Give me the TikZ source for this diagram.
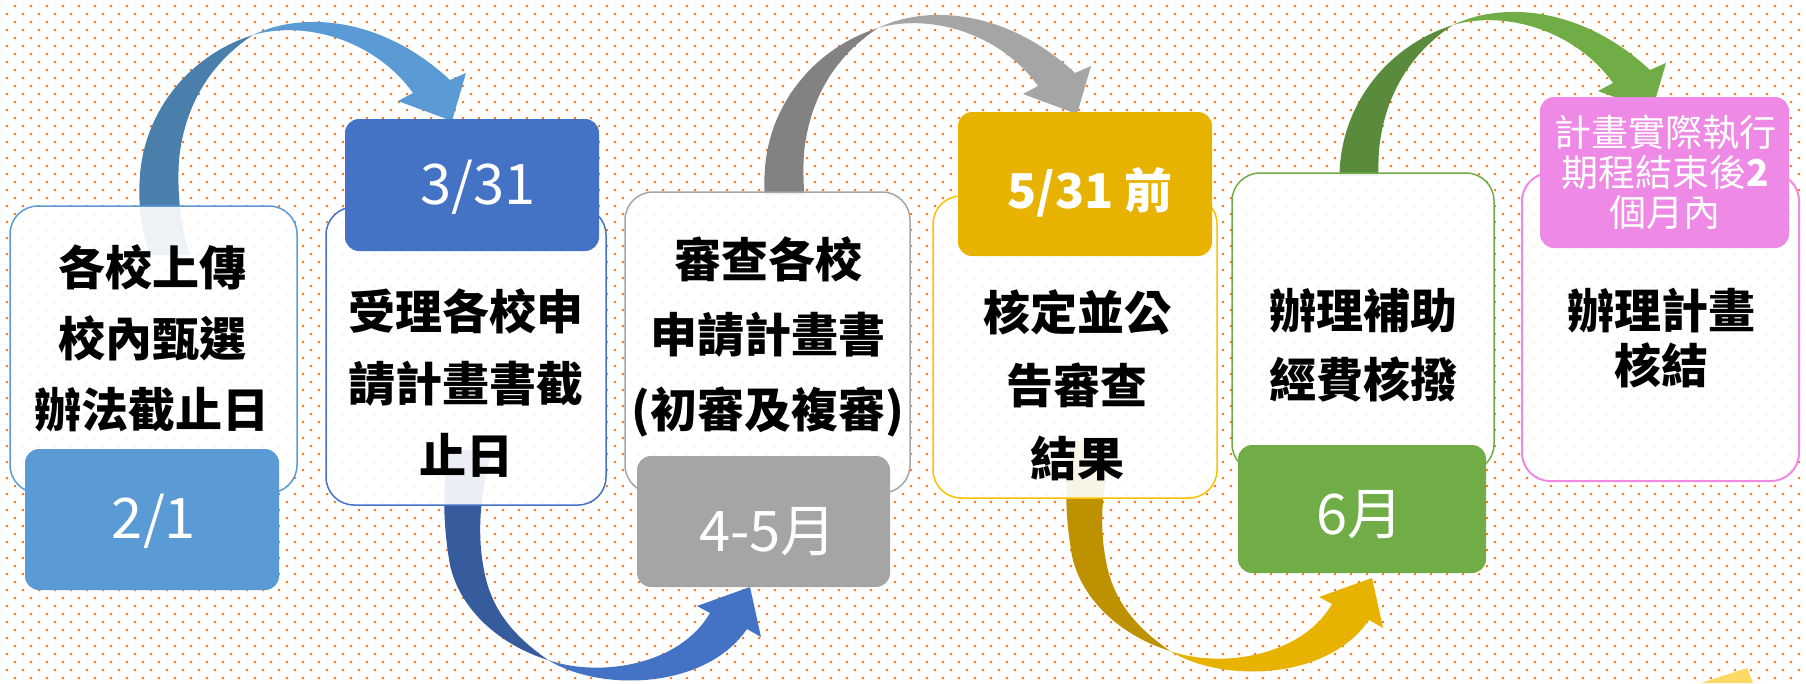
\documentclass[tikz,border=0pt]{standalone}
\usepackage{fontspec}
\newfontfamily\cjk{Noto Sans CJK TC}
\definecolor{dotc}{HTML}{ED7D31}
\definecolor{cA}{HTML}{5B9BD5}
\definecolor{cAd}{HTML}{4A7EAB}
\definecolor{cB}{HTML}{4472C4}
\definecolor{cBd}{HTML}{365C9E}
\definecolor{cC}{HTML}{A5A5A5}
\definecolor{cCd}{HTML}{828282}
\definecolor{cD}{HTML}{E8B200}
\definecolor{cDd}{HTML}{BE9100}
\definecolor{cDb}{HTML}{FFC000}
\definecolor{cE}{HTML}{70AD47}
\definecolor{cEd}{HTML}{5A8B3C}
\definecolor{cF}{HTML}{EE8AE5}
\definecolor{cYel}{HTML}{FFD966}
\newcommand\TopArrow[4]{%
  \begin{scope}[shift={#1}]
    \clip (0,-20) rectangle (1806,#4);
    \fill[#2] (150,255) .. controls (140,225) and (138,200) .. (140,175)
      .. controls (145,110) and (190,55) .. (253,35)
      .. controls (215,60) and (185,100) .. (179,160)
      .. controls (177,190) and (180,225) .. (190,255) -- cycle;
    \fill[#3] (253,35) .. controls (300,12) and (380,15) .. (450,80)
      -- (466,73) -- (452,121) -- (398,101) -- (413,93)
      .. controls (375,40) and (305,20) .. (253,35) -- cycle;
  \end{scope}}
\newcommand\BotArrow[3]{%
  \begin{scope}[shift={#1}]
    \fill[#2] (449,450) .. controls (443,480) and (442,520) .. (450,565)
      .. controls (460,610) and (500,645) .. (548,660)
      .. controls (520,640) and (492,615) .. (484,570)
      .. controls (478,540) and (478,500) .. (492,450) -- cycle;
    \fill[#3] (548,660) .. controls (600,692) and (705,690) .. (747,629)
      -- (761,637) -- (750,587) -- (697,606) -- (710,613)
      .. controls (680,665) and (600,678) .. (548,660) -- cycle;
  \end{scope}}
\begin{document}
\begin{tikzpicture}[x=1pt,y=-1pt,
  wbox/.style={draw, line width=1.5pt, fill=white, fill opacity=0.9, draw opacity=1, rounded corners=28pt, inner sep=0pt},
  dbox/.style={rounded corners=14pt, inner sep=0pt},
  btxt/.style={font=\cjk\bfseries\fontsize{47}{#1}\selectfont, align=center, text=black, inner sep=0pt},
  btxt/.default=72,
  dtxt/.style={font=\cjk\fontsize{56}{60}\selectfont, text=white, inner sep=0pt}]
\useasboundingbox (0,0) rectangle (1806,683);
\fill[white] (0,0) rectangle (1806,683);
% dotted background
\fill[dotc] \foreach \yy in {5,21,...,677} {\foreach \xx in {14,30,...,1806} {(\xx,\yy) rectangle ++(2,2)}};
\fill[dotc] \foreach \yy in {13,29,...,677} {\foreach \xx in {6,22,...,1806} {(\xx,\yy) rectangle ++(2,2)}};
% curved arrows
\TopArrow{(0,0)}{cAd}{cA}{256}
\BotArrow{(0,0)}{cBd}{cB}
\TopArrow{(625,-7)}{cCd}{cC}{201}
\BotArrow{(622,-9)}{cDd}{cD}
\TopArrow{(1200,-10)}{cEd}{cE}{185}
\fill[cYel] (1701,683) -- (1747,668) -- (1753,683) -- cycle;
% white step boxes
\node[wbox, draw=cA, minimum width=287pt, minimum height=287pt] (w1) at (153.5,349.5) {};
\node[wbox, draw=cB, minimum width=280pt, minimum height=298pt] (w2) at (466,356) {};
\node[wbox, draw=cC, minimum width=285pt, minimum height=301pt] (w3) at (767.5,342.5) {};
\node[wbox, draw=cDb, minimum width=284pt, minimum height=302pt] (w4) at (1075,347) {};
\node[wbox, draw=cE, minimum width=262pt, minimum height=299pt] (w5) at (1363,322.5) {};
\node[wbox, draw=cF, line width=2pt, minimum width=277pt, minimum height=308pt] (w6) at (1660.5,327) {};
% date boxes
\node[dbox, fill=cA, minimum width=254pt, minimum height=141pt] (d1) at (152,519.5) {};
\node[dbox, fill=cB, minimum width=254pt, minimum height=132pt] (d2) at (472,185) {};
\node[dbox, fill=cC, minimum width=253pt, minimum height=131pt] (d3) at (763.5,521.5) {};
\node[dbox, fill=cD, minimum width=254pt, minimum height=144pt] (d4) at (1085,184) {};
\node[dbox, fill=cE, minimum width=248pt, minimum height=128pt] (d5) at (1362,509) {};
\node[dbox, fill=cF, minimum width=249pt, minimum height=151pt] (d6) at (1664.5,172.5) {};
% step texts
\node[btxt=71] (t1) at (152,338) {各校上傳\\校內甄選\\辦法截止日};
\node[btxt=72] (t2) at (466,383) {受理各校申\\請計畫書截\\止日};
\node[btxt=75] (t3) at (768,337) {審查各校\\申請計畫書\\(初審及複審)};
\node[btxt=73] (t4) at (1077,385) {核定並公\\告審查\\結果};
\node[btxt=69] (t5) at (1363,345) {辦理補助\\經費核撥};
\node[btxt=55] (t6) at (1661,338) {辦理計畫\\核結};
% date texts
\node[dtxt] (x1) at (154,521) {2/1};
\node[dtxt] (x2) at (478,187) {3/31};
\node[dtxt] (x3) at (768,532) {4-5月};
\node[dtxt, font=\cjk\bfseries\fontsize{48}{52}\selectfont] (x4) at (1090,192) {5/31 前};
\node[dtxt] (x5) at (1360,515) {6月};
\node[dtxt, font=\cjk\fontsize{37}{40}\selectfont, align=center] (x6) at (1665,172) {計畫實際執行\\期程結束後{\bfseries 2}\\個月內};
\end{tikzpicture}
\end{document}
